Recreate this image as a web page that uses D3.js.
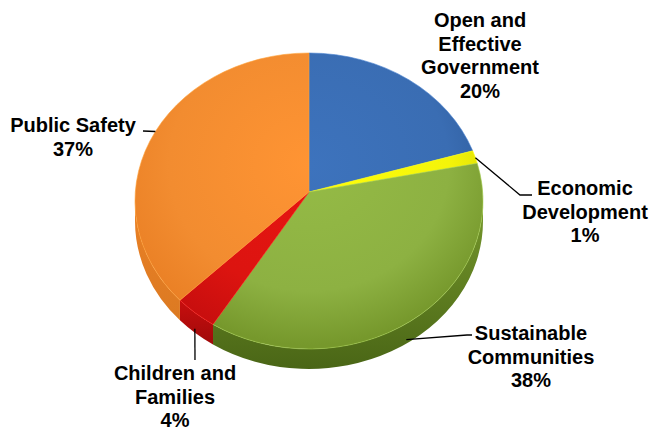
<!DOCTYPE html>
<html lang="en">
<head>
  <meta charset="UTF-8">
  <title>Budget by Priority Area</title>
  <script src="https://d3js.org/d3.v7.min.js"></script>
  <style>
    body { margin: 0; background: #fff; }
    .label { font-family: "Liberation Sans", Arial, sans-serif; font-weight: bold; font-size: 20px; fill: #000; }
    .leader { fill: none; stroke: #000; stroke-width: 1.3; }
  </style>
</head>
<body>
  <svg id="chart" width="653" height="435"></svg>

  <script>
    // data, clockwise from 12 o'clock
    const categories = ["Open and Effective Government", "Economic Development", "Sustainable Communities", "Children and Families", "Public Safety"];
    const shares = [19.5, 1.4, 38.4, 4.0, 36.7];
    const labelLines = [
      ["Open and", "Effective", "Government"],
      ["Economic", "Development"],
      ["Sustainable", "Communities"],
      ["Children and", "Families"],
      ["Public Safety"]
    ];

    const topColors  = ["#3a6db3", "#f4f40a", "#8db142", "#dc1410", "#f28c30"];
    const edgeColors = ["#2d5a99", "#d8d800", "#76982c", "#c80e0e", "#ea8025"];
    const sideColors = ["#22457a", "#a8a800", "#4a6616", "#a00a0a", "#dc7a22"];

    // label layout: text centre, first baseline, leader anchor angle (deg) and leader points
    const layout = [
      { x: 480, y: 27, anchor: null, pts: [] },
      { x: 585, y: 195, anchor: 73, pts: [[520, 195], [532, 195]] },
      { x: 531, y: 340, anchor: 146, side: true, pts: [[467, 335], [472, 335]] },
      { x: 175, y: 380, anchor: 221, side: true, pts: [[195, 360]] },
      { x: 73, y: 132, anchor: 298, pts: [[143, 131]] }
    ];

    const cx = 309, cy = 201, rx = 174, ry = 148, depth = 20;
    const vx = 309, vy = 192; // slice vertex, slightly above centre for perspective
    const lineH = 23.5;

    const svg = d3.select("#chart");
    const defs = svg.append("defs");

    const pie = d3.pie().sort(null).value(d => d).startAngle(0).endAngle(2 * Math.PI);
    const arcs = pie(shares);

    const pt = (a, dy = 0) => [cx + rx * Math.sin(a), cy - ry * Math.cos(a) + dy];

    // gradients
    categories.forEach((c, i) => {
      const g = defs.append("radialGradient").attr("id", "top" + i)
        .attr("gradientUnits", "userSpaceOnUse")
        .attr("cx", vx).attr("cy", vy - 30).attr("r", 200)
        .attr("gradientTransform", `translate(0,${vy}) scale(1,0.9) translate(0,${-vy})`);
      g.append("stop").attr("offset", "0%").attr("stop-color", d3.color(topColors[i]).brighter(0.15));
      g.append("stop").attr("offset", "70%").attr("stop-color", topColors[i]);
      g.append("stop").attr("offset", "100%").attr("stop-color", edgeColors[i]);

      const s = defs.append("linearGradient").attr("id", "side" + i)
        .attr("x1", 0).attr("y1", 0).attr("x2", 0).attr("y2", 1);
      s.append("stop").attr("offset", "0%").attr("stop-color", edgeColors[i]);
      s.append("stop").attr("offset", "100%").attr("stop-color", sideColors[i]);
    });

    // front walls (visible where angle is between 90 and 270 degrees)
    const lo = Math.PI / 2, hi = 3 * Math.PI / 2;
    arcs.forEach((d, i) => {
      const a0 = Math.max(d.startAngle, lo), a1 = Math.min(d.endAngle, hi);
      if (a1 <= a0) return;
      const p0 = pt(a0), p1 = pt(a1), q1 = pt(a1, depth), q0 = pt(a0, depth);
      const dd = `M${p0}L${q0}A${rx},${ry} 0 0 1 ${q1}L${p1}A${rx},${ry} 0 0 0 ${p0}Z`;
      svg.append("path").attr("d", dd).attr("fill", `url(#side${i})`);
    });

    // top faces
    arcs.forEach((d, i) => {
      const p0 = pt(d.startAngle), p1 = pt(d.endAngle);
      const large = d.endAngle - d.startAngle > Math.PI ? 1 : 0;
      svg.append("path")
        .attr("d", `M${vx},${vy}L${p0}A${rx},${ry} 0 ${large} 1 ${p1}Z`)
        .attr("fill", `url(#top${i})`)
        .attr("stroke", d3.color(topColors[i]).brighter(0.4))
        .attr("stroke-width", 0.6)
        .attr("stroke-linejoin", "round");
    });

    // labels and leader lines
    arcs.forEach((d, i) => {
      const L = layout[i];
      if (L.anchor !== null) {
        const a = L.anchor * Math.PI / 180;
        const start = pt(a, L.side ? depth - 4 : 0);
        svg.append("path").attr("class", "leader")
          .attr("d", d3.line()([start, ...L.pts]));
      }
      const lines = [...labelLines[i], Math.round(d.data) + "%"];
      const t = svg.append("text").attr("class", "label").attr("text-anchor", "middle");
      lines.forEach((s, k) => {
        t.append("tspan").attr("x", L.x).attr("y", L.y + k * lineH).text(s);
      });
    });
  </script>
</body>
</html>
